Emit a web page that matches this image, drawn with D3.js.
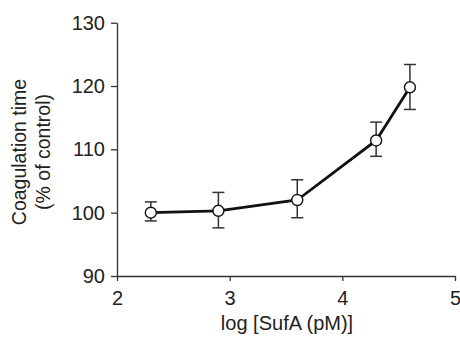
<!DOCTYPE html>
<html><head><meta charset="utf-8">
<script src="https://cdn.jsdelivr.net/npm/d3@7"></script>
<style>body{margin:0;background:#fff}svg{display:block}text{font-family:"Liberation Sans",Arial,sans-serif;fill:#222}</style>
</head><body><svg id="c" width="460" height="337"></svg>
<script>
const logConc = [2.3, 2.9, 3.6, 4.3, 4.6];
const meanVal = [100.0, 100.3, 102.0, 111.4, 119.8];
const errUpper = [101.7, 103.2, 105.2, 114.3, 123.4];
const errLower = [98.7, 97.6, 99.2, 108.9, 116.3];
const xTicks = [2, 3, 4, 5];
const yTicks = [90, 100, 110, 120, 130];

const svg = d3.select("#c");
const x = d3.scaleLinear().domain([2, 5]).range([117, 455]);
const y = d3.scaleLinear().domain([90, 130]).range([276, 22.7]);
const axisColor = "#333";

const gx = svg.append("g").attr("transform", "translate(0,276)")
  .call(d3.axisBottom(x).tickValues(xTicks).tickFormat(d3.format("d")).tickSize(5).tickSizeOuter(0));
const gy = svg.append("g").attr("transform", "translate(117,0)")
  .call(d3.axisLeft(y).tickValues(yTicks).tickFormat(d3.format("d")).tickSize(6).tickSizeOuter(0));
[gx, gy].forEach(g => {
  g.select(".domain").attr("stroke", axisColor).attr("stroke-width", 1.3);
  g.selectAll(".tick line").attr("stroke", axisColor).attr("stroke-width", 1.3);
  g.selectAll(".tick text").attr("font-size", 20).attr("fill", "#222")
    .attr("font-family", '"Liberation Sans",Arial,sans-serif');
});
gx.selectAll(".tick text").attr("dy", "1.05em");
gy.selectAll(".tick text").attr("dx", "-0.15em");

svg.append("text").attr("x", 287).attr("y", 330).attr("text-anchor", "middle")
  .attr("font-size", 20).text("log [SufA (pM)]");
const yl = svg.append("text").attr("transform", "translate(0,152) rotate(-90)")
  .attr("text-anchor", "middle").attr("font-size", 19.5);
yl.append("tspan").attr("x", 0).attr("y", 26).text("Coagulation time");
yl.append("tspan").attr("x", 0).attr("y", 50).text("(% of control)");

const data = logConc.map((d, i) => ({x: d, m: meanVal[i], hi: errUpper[i], lo: errLower[i]}));
const eb = svg.append("g").attr("stroke", "#333").attr("stroke-width", 1.5);
data.forEach(d => {
  eb.append("line").attr("x1", x(d.x)).attr("x2", x(d.x)).attr("y1", y(d.hi)).attr("y2", y(d.lo));
  eb.append("line").attr("x1", x(d.x) - 6).attr("x2", x(d.x) + 6).attr("y1", y(d.hi)).attr("y2", y(d.hi));
  eb.append("line").attr("x1", x(d.x) - 6).attr("x2", x(d.x) + 6).attr("y1", y(d.lo)).attr("y2", y(d.lo));
});
svg.append("path").datum(data)
  .attr("d", d3.line().x(d => x(d.x)).y(d => y(d.m)))
  .attr("fill", "none").attr("stroke", "#111").attr("stroke-width", 2.8);
svg.append("g").selectAll("circle").data(data).join("circle")
  .attr("cx", d => x(d.x)).attr("cy", d => y(d.m)).attr("r", 5.5)
  .attr("fill", "#fff").attr("stroke", "#111").attr("stroke-width", 1.4);
</script></body></html>
